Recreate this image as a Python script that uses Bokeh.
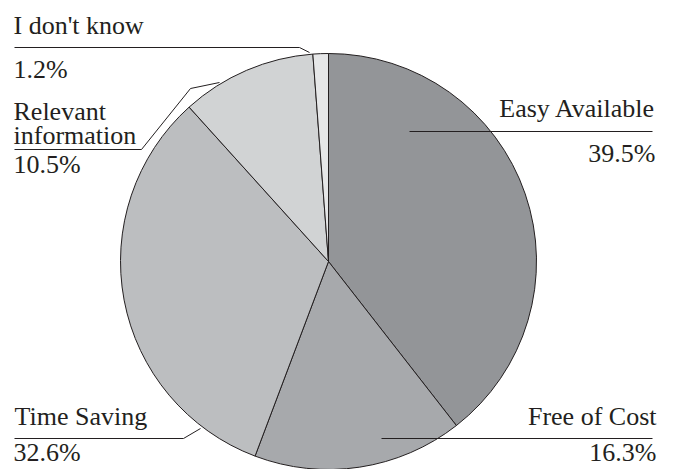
import math
from bokeh.plotting import figure
from bokeh.models import Range1d, ColumnDataSource
from bokeh.core.properties import value
from bokeh.embed import file_html
from bokeh.resources import INLINE

# ---- data ----
categories = ["Easy Available", "Free of Cost", "Time Saving", "Relevant information", "I don't know"]
values = [39.5, 16.3, 32.6, 10.5, 1.2]
pct_labels = ["39.5%", "16.3%", "32.6%", "10.5%", "1.2%"]
colors = ["#939598", "#a7a9ac", "#bcbec0", "#d1d3d4", "#e6e7e8"]

W, H = 676, 469
CX, CY, R = 328, H - 261, 208
INK = "#231f20"
FONT = value("Liberation Serif")
FS = "26px"
TXT_SHIFT = 8  # baseline correction for rendered text

p = figure(width=W, height=H, x_range=Range1d(0, W), y_range=Range1d(0, H),
           output_backend="svg", toolbar_location=None, min_border=0)
p.axis.visible = False
p.grid.visible = False
p.outline_line_color = None
p.background_fill_color = "white"
p.border_fill_color = "white"

total = sum(values)
starts, ends = [], []
cum = 0.0
for v in values:
    starts.append(math.pi / 2 - 2 * math.pi * cum / total)
    cum += v
    ends.append(math.pi / 2 - 2 * math.pi * cum / total)

src = ColumnDataSource(dict(x=[CX] * len(values), y=[CY] * len(values),
                            start=starts, end=ends, color=colors, cat=categories))
p.wedge(x="x", y="y", radius=R, start_angle="start", end_angle="end", direction="clock",
        fill_color="color", line_color=INK, line_width=1, source=src)

# ---- leader lines (layout, image pixel coords) ----
def Y(y):
    return H - y

leaders = [
    [(409, 131), (652, 131)],                       # Easy Available
    [(381, 438), (652, 438)],                       # Free of Cost
    [(14, 438), (183, 438), (200, 428)],            # Time Saving
    [(14, 149), (141, 149), (190, 88), (219, 82)],  # Relevant information
    [(14, 47), (299, 47), (309, 52)],               # I don't know
]
p.multi_line(xs=[[pt[0] for pt in L] for L in leaders],
             ys=[[Y(pt[1]) for pt in L] for L in leaders],
             line_color=INK, line_width=1)

# ---- label text (layout: x, baseline y, align) ----
name_lines = [["Easy Available"], ["Free of Cost"], ["Time Saving"], ["Relevant", "information"], ["I don't know"]]
name_pos = [(655, [116], "right"), (656, [424], "right"), (14, [424], "left"),
            (13, [119, 143], "left"), (13, [33], "left")]
pct_pos = [(655, 161, "right"), (656, 460, "right"), (13, 460, "left"),
           (13, 172, "left"), (13, 77, "left")]

tx, ty, tt, ta = [], [], [], []
for i in range(len(categories)):
    x, ys, al = name_pos[i]
    for line, yy in zip(name_lines[i], ys):
        tx.append(x); ty.append(Y(yy - TXT_SHIFT)); tt.append(line); ta.append(al)
    x, yy, al = pct_pos[i]
    tx.append(x); ty.append(Y(yy - TXT_SHIFT)); tt.append(pct_labels[i]); ta.append(al)

for al in ("left", "right"):
    idx = [k for k in range(len(tt)) if ta[k] == al]
    p.text(x=[tx[k] for k in idx], y=[ty[k] for k in idx], text=[tt[k] for k in idx],
           text_font=FONT, text_font_size=FS, text_color=INK,
           text_align=al, text_baseline="alphabetic")

open("out.html", "w").write(file_html(p, INLINE))
